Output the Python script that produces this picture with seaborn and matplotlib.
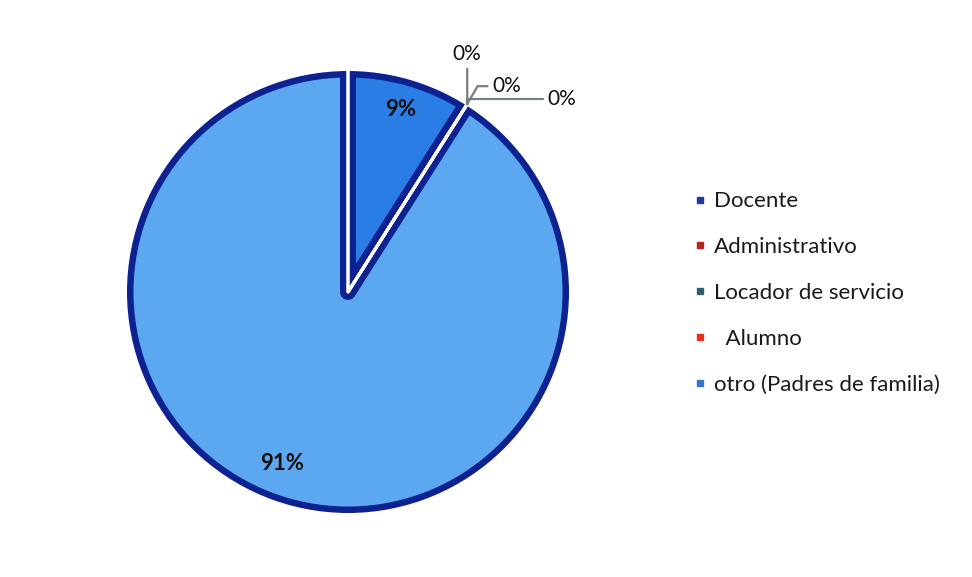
import numpy as np
import matplotlib
matplotlib.use("Agg")
import matplotlib.pyplot as plt
from matplotlib.lines import Line2D
from matplotlib.patches import Circle
import seaborn as sns

# ---- data ----
categories = ["Docente", "Administrativo", "Locador de servicio", "Alumno", "otro (Padres de familia)"]
legend_labels = ["Docente", "Administrativo", "Locador de servicio", "  Alumno", "otro (Padres de familia)"]
values = [9, 0, 0, 0, 91]
slice_colors = ["#2b7de6", "#b3261e", "#2f5f6e", "#e0321e", "#5ba8f0"]
legend_colors = ["#1b3f9a", "#b3261e", "#2f5f6e", "#e0321e", "#2f78c4"]

sns.set_theme(style="white")
plt.rcParams["font.family"] = ["Lato", "DejaVu Sans"]

W, H, DPI = 972, 577, 100
fig = plt.figure(figsize=(W / DPI, H / DPI), dpi=DPI)
fig.patch.set_facecolor("white")

# geometry (pixels)
cx, cy = 348, 292
U = 222.5            # pixels per data unit
half = 1.1
ax = fig.add_axes([(cx - half * U) / W, (H - cy - half * U) / H, 2 * half * U / W, 2 * half * U / H])

px2pt = 72 / DPI
navy = "#0d2290"
border_px, gap_px = 6.5, 3

wedges, texts, autotexts = ax.pie(
    values, colors=slice_colors, startangle=90, counterclock=False, radius=1,
    autopct=lambda p: f"{p:.0f}%" if p > 0.5 else "", pctdistance=0.855,
    wedgeprops=dict(edgecolor=navy, linewidth=2 * (border_px + gap_px / 2) * px2pt, joinstyle="round"),
    textprops=dict(fontsize=16, fontweight="bold", color="#111111"),
)
# white gaps between slices
ax.pie(values, colors=["white"] * len(values), startangle=90, counterclock=False, radius=1.06,
       wedgeprops=dict(edgecolor="white", linewidth=gap_px * px2pt, fill=False, joinstyle="round"))
# trim outer part of border
ax.add_patch(Circle((0, 0), 1 + 4.5 / U, fill=False, edgecolor="white", linewidth=12 * px2pt, zorder=5))

ax.set_xlim(-half, half)
ax.set_ylim(-half, half)
ax.set_aspect("equal")
ax.axis("off")

# nudge the 91% label
autotexts[4].set_position((-0.295, -0.77))

# zero-value labels with leader lines
cum = np.cumsum(values)
lc = "#76807f"
zero_idx = [i for i, v in enumerate(values) if v == 0]
offsets = [((0, 40), "center", "bottom", "arc3"),
           ((25, 18), "left", "center", "angle,angleA=0,angleB=60"),
           ((80, 5), "left", "center", "angle,angleA=0,angleB=90")]
for k, i in enumerate(zero_idx):
    ang = np.deg2rad(90 - 360 * cum[i] / sum(values))
    pt = (np.cos(ang), np.sin(ang))
    (dx, dy), ha, va, cs = offsets[k]
    ax.annotate(f"{values[i]}%", xy=pt, xytext=(dx, dy), textcoords="offset pixels",
                ha=ha, va=va, fontsize=15, color="#111111", zorder=6,
                arrowprops=dict(arrowstyle="-", color=lc, lw=1.6, connectionstyle=cs,
                                shrinkA=1, shrinkB=0))

handles = [Line2D([0], [0], marker="s", linestyle="none", markersize=5,
                  markerfacecolor=c, markeredgecolor=c) for c in legend_colors]
fig.legend(handles, legend_labels, loc="center left", bbox_to_anchor=(693 / W, 1 - 293 / H),
           frameon=False, fontsize=16, labelspacing=1.16, handlelength=0.6, handletextpad=0.35,
           borderpad=0, borderaxespad=0, labelcolor="#1a1a1a")

fig.savefig("out.png", dpi=DPI, facecolor="white")
